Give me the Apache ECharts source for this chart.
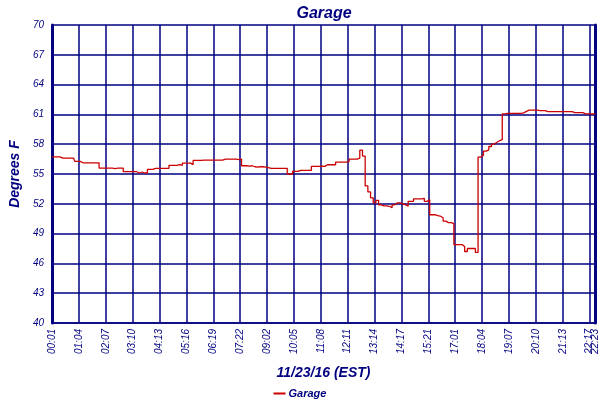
<!DOCTYPE html>
<html><head><meta charset="utf-8">
<script src="https://cdn.jsdelivr.net/npm/echarts@6/dist/echarts.min.js"></script>
<style>html,body{margin:0;padding:0;background:#fff}#c{width:600px;height:400px}</style>
</head><body><div id="c"></div>
<script>
const title = "Garage";
const seriesName = "Garage";
const xAxisName = "11/23/16 (EST)";
const yAxisName = "Degrees F";
const tickLabels = ["00:01","01:04","02:07","03:10","04:13","05:16","06:19","07:22","09:02","10:05","11:08","12:11","13:14","14:17","15:21","17:01","18:04","19:07","20:10","21:13","22:17","22:23"];
const tickSampleIndex = [0,10,20,30,40,50,60,70,80,90,100,110,120,130,140,150,160,170,180,190,200,202];
const yTicks = [40,43,46,49,52,55,58,61,64,67,70];
const temps = [
56.73,56.73,56.73,56.73,56.6,56.6,56.6,56.6,56.6,56.27,
56.27,56.13,56.13,56.13,56.13,56.13,56.13,56.13,55.6,55.6,
55.6,55.6,55.6,55.55,55.6,55.6,55.6,55.23,55.23,55.23,
55.23,55.23,55.1,55.2,55.1,55.1,55.47,55.47,55.57,55.57,
55.57,55.57,55.57,55.57,55.87,55.87,55.87,55.95,55.87,56.1,
56.1,56.1,55.95,56.37,56.37,56.37,56.4,56.4,56.4,56.4,
56.4,56.4,56.4,56.4,56.5,56.5,56.5,56.5,56.5,56.45,
56.5,55.83,55.83,55.8,55.83,55.73,55.7,55.73,55.73,55.7,
55.65,55.57,55.57,55.57,55.57,55.57,55.57,55.57,55.0,55.0,
55.27,55.27,55.37,55.37,55.37,55.37,55.37,55.77,55.77,55.77,
55.8,55.77,55.93,55.93,55.93,55.93,56.2,56.2,56.2,56.2,
56.25,56.5,56.5,56.5,56.6,57.4,56.8,53.8,53.2,52.6,
52.1,52.35,51.9,51.8,51.8,51.75,51.6,51.9,52.1,52.1,
52.0,51.9,51.75,52.25,52.25,52.5,52.5,52.5,52.55,52.25,
52.4,50.9,50.9,50.8,50.75,50.6,50.25,50.1,50.1,50.0,
47.9,47.9,47.9,47.7,47.2,47.5,47.5,47.5,47.1,56.7,
56.9,57.3,57.43,57.77,58.0,58.2,58.35,58.45,61.05,61.1,
61.1,61.1,61.1,61.1,61.1,61.15,61.3,61.43,61.43,61.43,
61.43,61.37,61.37,61.37,61.27,61.27,61.27,61.27,61.27,61.27,
61.27,61.27,61.27,61.27,61.17,61.17,61.17,61.17,61.05,61.05,
61.05,61.05,61.0
];

const navy = '#000080';
const red = '#cc0000';
const fontFam = '"Liberation Sans", Arial, sans-serif';
const categories = temps.map((v, i) => {
  const k = tickSampleIndex.indexOf(i);
  return k >= 0 ? tickLabels[k] : '';
});
const lastIdx = temps.length - 1;
const isTick = (idx) => tickSampleIndex.indexOf(idx) >= 0;
const labelStyle = {rotate: 90, margin: 6, color: navy, fontSize: 10, fontStyle: 'italic', fontFamily: fontFam};

const chart = echarts.init(document.getElementById('c'), null, {renderer: 'canvas'});
chart.setOption({
  backgroundColor: '#fff',
  animation: false,
  title: {
    text: title, left: 319, top: 1, textAlign: 'center',
    textStyle: {color: navy, fontSize: 16, fontWeight: 'bold', fontStyle: 'italic', fontFamily: fontFam}
  },
  legend: {
    data: [seriesName], left: 'center', top: 383,
    icon: 'rect', itemWidth: 12, itemHeight: 2, itemGap: 4,
    textStyle: {color: navy, fontSize: 11, fontWeight: 'bold', fontStyle: 'italic', fontFamily: fontFam, padding: [0,0,0,-2]}
  },
  grid: {left: 40, right: 2, top: 25, bottom: 77, containLabel: false},
  xAxis: [{
    type: 'category', data: categories, boundaryGap: false,
    name: xAxisName, nameLocation: 'middle', nameGap: 43,
    nameTextStyle: {color: navy, fontSize: 14, fontWeight: 'bold', fontStyle: 'italic', fontFamily: fontFam},
    axisLine: {show: true, lineStyle: {color: navy, width: 1.5}},
    axisTick: {show: false},
    axisLabel: Object.assign({
      interval: (idx) => isTick(idx) && idx !== lastIdx, showMinLabel: true, showMaxLabel: true, hideOverlap: false
    }, labelStyle),
    splitLine: {show: true, interval: (idx) => isTick(idx), lineStyle: {color: navy, width: 1.5}}
  }, {
    type: 'category', data: categories, boundaryGap: false, position: 'bottom',
    axisLine: {show: false}, axisTick: {show: false}, splitLine: {show: false},
    axisLabel: Object.assign({
      interval: (idx) => idx === lastIdx, showMaxLabel: true, hideOverlap: false
    }, labelStyle)
  }],
  yAxis: [{
    type: 'value', min: 40, max: 70,
    name: yAxisName, nameLocation: 'middle', nameGap: 30,
    nameTextStyle: {color: navy, fontSize: 14, fontWeight: 'bold', fontStyle: 'italic', fontFamily: fontFam},
    axisLine: {show: true, lineStyle: {color: navy, width: 3}},
    axisTick: {show: false, customValues: yTicks},
    axisLabel: {customValues: yTicks, margin: 8, color: navy, fontSize: 10, fontStyle: 'italic', fontFamily: fontFam},
    splitLine: {show: true, lineStyle: {color: navy, width: 1.5}}
  }, {
    type: 'value', min: 40, max: 70, position: 'right',
    axisLine: {show: true, lineStyle: {color: navy, width: 3}},
    axisTick: {show: false}, axisLabel: {show: false}, splitLine: {show: false}
  }],
  series: [{
    name: seriesName, type: 'line', data: temps, step: 'middle',
    xAxisIndex: 0, yAxisIndex: 0,
    showSymbol: false, symbol: 'none',
    lineStyle: {color: red, width: 1.3}, itemStyle: {color: red}
  }]
});
</script></body></html>
